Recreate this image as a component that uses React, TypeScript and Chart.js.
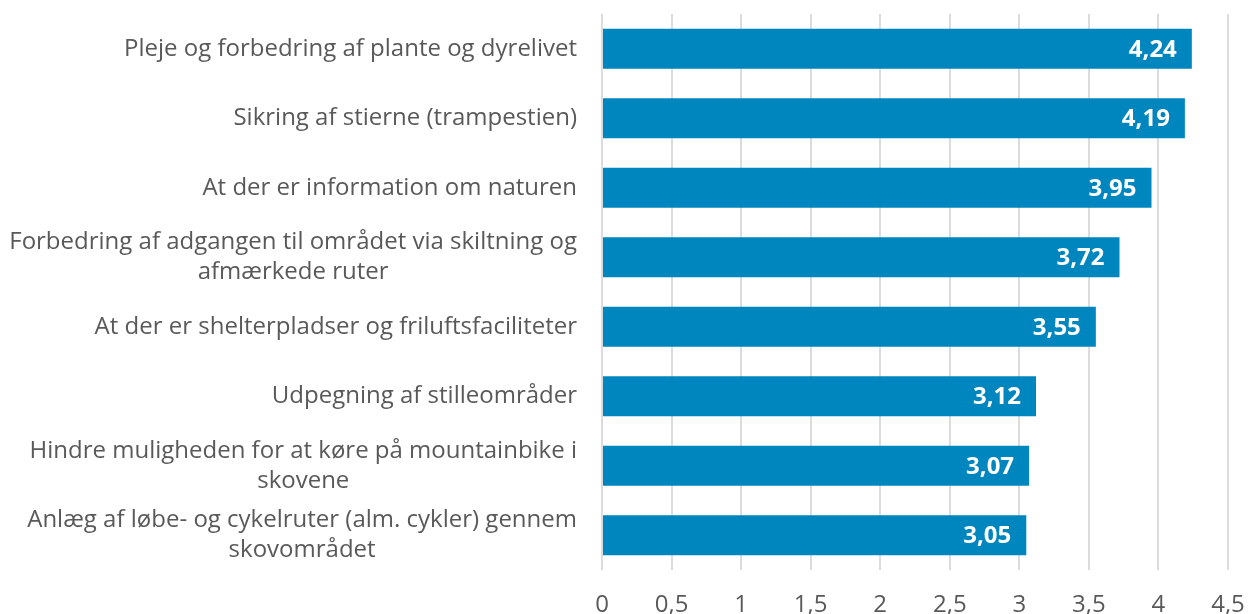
import React, { useEffect, useRef } from "react";
import { Chart, registerables } from "chart.js";

Chart.register(...registerables);

const categories: string[][] = [
  ["Pleje og forbedring af plante og dyrelivet"],
  ["Sikring af stierne (trampestien)"],
  ["At der er information om naturen"],
  ["Forbedring af adgangen til området via skiltning og", "afmærkede ruter"],
  ["At der er shelterpladser og friluftsfaciliteter"],
  ["Udpegning af stilleområder"],
  ["Hindre muligheden for at køre på mountainbike i", "skovene"],
  ["Anlæg af løbe- og cykelruter (alm. cykler) gennem", "skovområdet"],
];
const values: number[] = [4.24, 4.19, 3.95, 3.72, 3.55, 3.12, 3.07, 3.05];
const xMin = 0;
const xMax = 4.5;
const xStep = 0.5;

const FONT = '"Open Sans", sans-serif';
const TEXT = "#595959";
const BAR = "#0086BF";
const SIZE = 24;

const categoryLabelPlugin = {
  id: "categoryLabels",
  afterDraw(chart: any) {
    const ctx = chart.ctx;
    const yScale = chart.scales.y;
    ctx.save();
    ctx.font = `${SIZE}px ${FONT}`;
    ctx.fillStyle = TEXT;
    ctx.textAlign = "center";
    ctx.textBaseline = "middle";
    const rightEdge = chart.chartArea.left - 25;
    const lineH = 30;
    categories.forEach((lines, i) => {
      const yc = yScale.getPixelForTick(i);
      const w = Math.max(...lines.map((l) => ctx.measureText(l).width));
      const xc = rightEdge - w / 2;
      const start = yc - ((lines.length - 1) * lineH) / 2;
      lines.forEach((l, j) => ctx.fillText(l, xc, start + j * lineH));
    });
    ctx.restore();
  },
};

const valueLabelPlugin = {
  id: "valueLabels",
  afterDatasetsDraw(chart: any) {
    const ctx = chart.ctx;
    const meta = chart.getDatasetMeta(0);
    ctx.save();
    ctx.font = `bold ${SIZE}px ${FONT}`;
    ctx.fillStyle = "#ffffff";
    ctx.textAlign = "right";
    ctx.textBaseline = "middle";
    meta.data.forEach((bar: any, i: number) => {
      const txt = values[i].toFixed(2).replace(".", ",");
      ctx.fillText(txt, bar.x - 15, bar.y + 1);
    });
    ctx.restore();
  },
};

export default function App() {
  const ref = useRef<HTMLCanvasElement | null>(null);
  useEffect(() => {
    if (!ref.current) return;
    const chart = new Chart(ref.current, {
      type: "bar",
      data: {
        labels: categories.map((c) => c.join(" ")),
        datasets: [
          {
            data: values,
            backgroundColor: BAR,
            borderWidth: 0,
            barPercentage: 0.575,
            categoryPercentage: 1,
          },
        ],
      },
      options: {
        indexAxis: "y",
        animation: false,
        responsive: true,
        maintainAspectRatio: false,
        layout: { padding: { top: 14, right: 20, left: 0, bottom: 0 } },
        plugins: {
          legend: { display: false },
          tooltip: { enabled: false },
        },
        scales: {
          x: {
            min: xMin,
            max: xMax,
            border: { display: false },
            grid: { color: "#dcdcdc", lineWidth: 2, drawTicks: false },
            ticks: {
              stepSize: xStep,
              padding: 21,
              color: TEXT,
              font: { family: FONT, size: SIZE },
              maxRotation: 0,
              autoSkip: false,
              callback: (v: any) => String(v).replace(".", ","),
            },
            afterFit: (scale: any) => {
              scale.height = 44;
              scale.paddingLeft = 0;
              scale.paddingRight = 0;
            },
          },
          y: {
            border: { display: false },
            grid: { display: false },
            ticks: { display: false },
            afterFit: (scale: any) => {
              scale.width = 602;
            },
          },
        },
      },
      plugins: [categoryLabelPlugin, valueLabelPlugin],
    } as any);
    return () => chart.destroy();
  }, []);
  return (
    <div style={{ position: "absolute", left: 0, top: 0, width: 1248, height: 614 }}>
      <canvas ref={ref} />
    </div>
  );
}
